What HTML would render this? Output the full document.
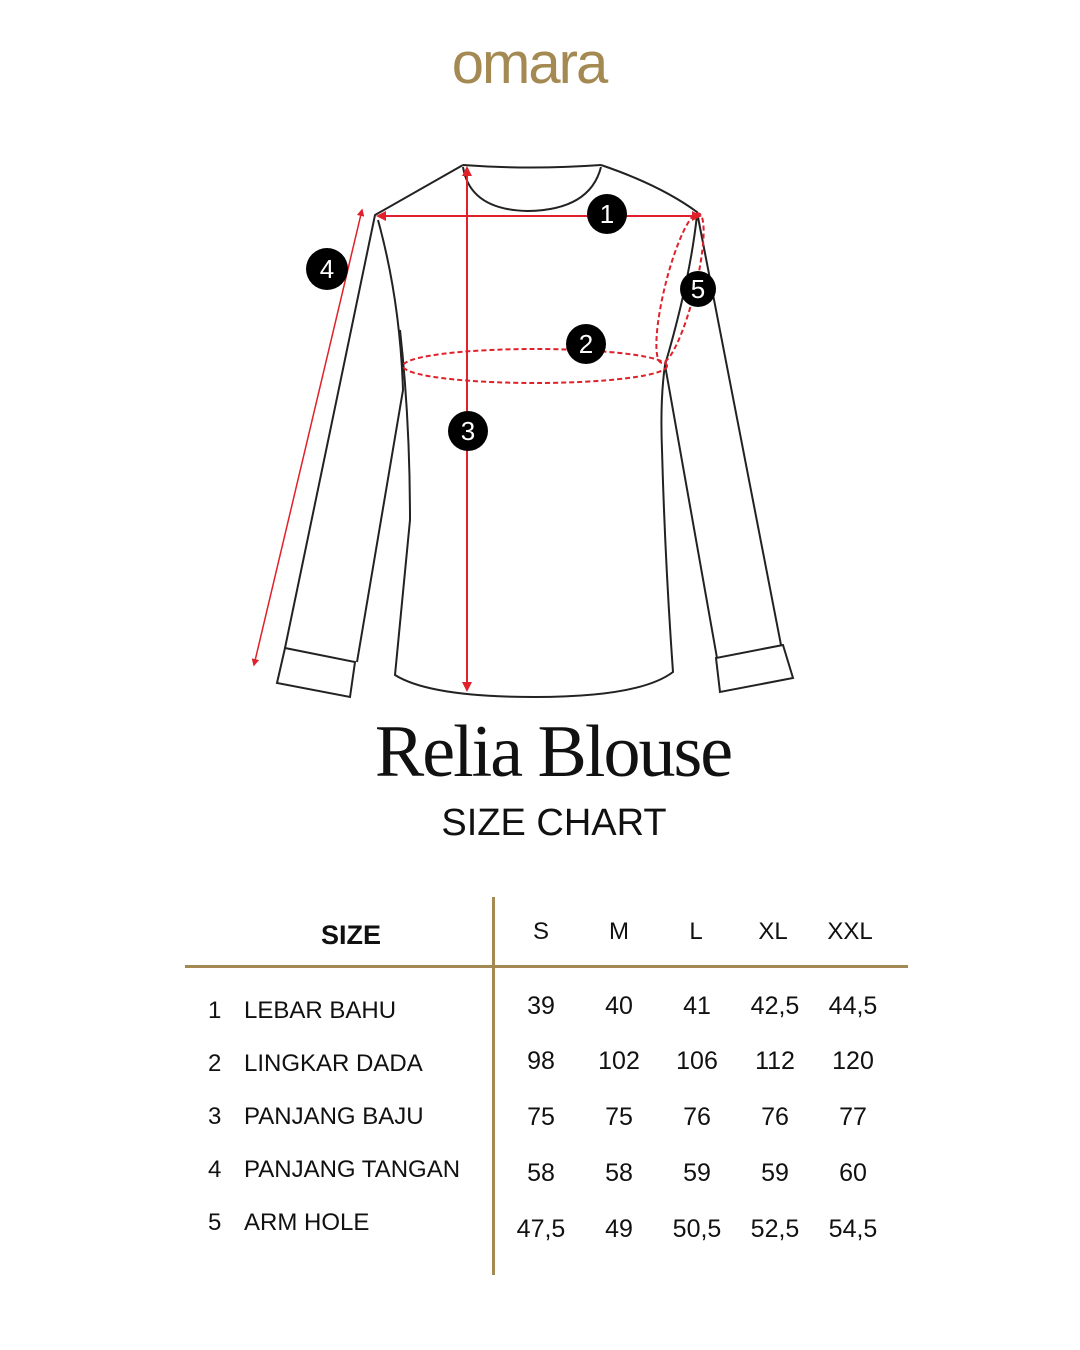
<!DOCTYPE html>
<html><head><meta charset="utf-8"><style>
html,body{margin:0;padding:0;background:#fff;}
body{width:1080px;height:1350px;position:relative;overflow:hidden;font-family:"Liberation Sans",sans-serif;}
.t{position:absolute;white-space:nowrap;color:#111;}
.c{transform:translateX(-50%);}
</style></head><body>
<div class="t c" style="left:529px;top:30px;font-size:58px;color:#a48a52;letter-spacing:-2px;">omara</div>
<svg width="1080" height="720" style="position:absolute;left:0;top:0" xmlns="http://www.w3.org/2000/svg">
<defs><marker id="a" markerWidth="5" markerHeight="5" refX="4" refY="2.5" orient="auto-start-reverse"><path d="M0,0 L5,2.5 L0,5 z" fill="#e0202a"/></marker></defs>
<g fill="none" stroke="#222" stroke-width="2">
<path d="M463,165 Q530,170 601,165"/>
<path d="M463,167 Q470,210 528,211 Q590,210 601,167"/>
<path d="M463,165 L375,215 L285,648"/>
<path d="M601,165 Q660,185 697,212 L781,645"/>
<path d="M285,648 L355,662 L350,697 L277,683 Z"/>
<path d="M783,645 L716,658 L720,692 L793,678 Z"/>
<path d="M378,220 Q400,300 403,390 L357,662"/>
<path d="M400,330 Q410,420 410,520 Q400,620 395,675 Q430,697 535,697 Q640,697 673,672 Q665,560 662,450 Q660,400 665,365"/>
<path d="M697,215 Q690,280 665,365 L717,658"/>
</g>
<g stroke="#e0202a" stroke-width="2" fill="none">
<line x1="378" y1="216" x2="700" y2="216" marker-end="url(#a)" marker-start="url(#a)"/>
<line x1="467" y1="168" x2="467" y2="690" marker-end="url(#a)" marker-start="url(#a)"/>
<line x1="362" y1="210" x2="254" y2="665" marker-end="url(#a)" marker-start="url(#a)" stroke-width="1.5"/>
<ellipse cx="535" cy="366" rx="132" ry="17" stroke-dasharray="5,3"/>
<ellipse cx="680" cy="288" rx="15" ry="77" transform="rotate(14 680 288)" stroke-dasharray="5,3"/>
</g>
<g font-family="Liberation Sans,sans-serif" font-size="26" fill="#fff" text-anchor="middle">
<circle cx="607" cy="214" r="20" fill="#000"/><text x="607" y="223">1</text>
<circle cx="586" cy="344" r="20" fill="#000"/><text x="586" y="353">2</text>
<circle cx="468" cy="431" r="20" fill="#000"/><text x="468" y="440">3</text>
<circle cx="327" cy="269" r="21" fill="#000"/><text x="327" y="278">4</text>
<circle cx="698" cy="289" r="18" fill="#000"/><text x="698" y="298">5</text>
</g>
</svg>
<div class="t c" style="left:553px;top:710px;font-family:'Liberation Serif',serif;font-size:74px;letter-spacing:-2px;">Relia Blouse</div>
<div class="t c" style="left:554px;top:802px;font-size:38px;">SIZE CHART</div>
<div style="position:absolute;left:185px;top:965px;width:723px;height:3px;background:#a48a52"></div>
<div style="position:absolute;left:492px;top:897px;width:3px;height:378px;background:#a48a52"></div>
<div class="t c" style="left:351px;top:920px;font-size:27px;font-weight:bold;">SIZE</div>
<div class="t c" style="left:541px;top:918px;font-size:24px;">S</div>
<div class="t c" style="left:619px;top:918px;font-size:24px;">M</div>
<div class="t c" style="left:696px;top:918px;font-size:24px;">L</div>
<div class="t c" style="left:773px;top:918px;font-size:24px;">XL</div>
<div class="t c" style="left:850px;top:918px;font-size:24px;">XXL</div>
<div style="position:absolute;left:0;top:0;font-size:24px;">
<div class="t" style="left:208px;top:997px">1</div><div class="t" style="left:244px;top:997px">LEBAR BAHU</div>
<div class="t" style="left:208px;top:1050px">2</div><div class="t" style="left:244px;top:1050px">LINGKAR DADA</div>
<div class="t" style="left:208px;top:1103px">3</div><div class="t" style="left:244px;top:1103px">PANJANG BAJU</div>
<div class="t" style="left:208px;top:1156px">4</div><div class="t" style="left:244px;top:1156px">PANJANG TANGAN</div>
<div class="t" style="left:208px;top:1209px">5</div><div class="t" style="left:244px;top:1209px">ARM HOLE</div>
</div>
<div style="position:absolute;left:0;top:0;font-size:25px;">
<div class="t c" style="left:541px;top:992px">39</div><div class="t c" style="left:619px;top:992px">40</div><div class="t c" style="left:697px;top:992px">41</div><div class="t c" style="left:775px;top:992px">42,5</div><div class="t c" style="left:853px;top:992px">44,5</div>
<div class="t c" style="left:541px;top:1047px">98</div><div class="t c" style="left:619px;top:1047px">102</div><div class="t c" style="left:697px;top:1047px">106</div><div class="t c" style="left:775px;top:1047px">112</div><div class="t c" style="left:853px;top:1047px">120</div>
<div class="t c" style="left:541px;top:1103px">75</div><div class="t c" style="left:619px;top:1103px">75</div><div class="t c" style="left:697px;top:1103px">76</div><div class="t c" style="left:775px;top:1103px">76</div><div class="t c" style="left:853px;top:1103px">77</div>
<div class="t c" style="left:541px;top:1159px">58</div><div class="t c" style="left:619px;top:1159px">58</div><div class="t c" style="left:697px;top:1159px">59</div><div class="t c" style="left:775px;top:1159px">59</div><div class="t c" style="left:853px;top:1159px">60</div>
<div class="t c" style="left:541px;top:1215px">47,5</div><div class="t c" style="left:619px;top:1215px">49</div><div class="t c" style="left:697px;top:1215px">50,5</div><div class="t c" style="left:775px;top:1215px">52,5</div><div class="t c" style="left:853px;top:1215px">54,5</div>
</div>
</body></html>
